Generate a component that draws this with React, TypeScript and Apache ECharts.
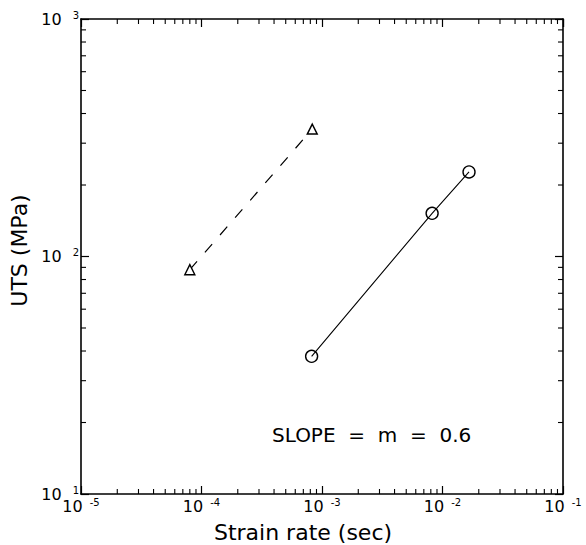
import React, { useEffect, useRef } from "react";
import * as echarts from "echarts";

// Axis decades and minor tick multiples
const xDecades = [1e-5, 1e-4, 1e-3, 1e-2];
const yDecades = [10, 100];
const minorMultiples = [2, 3, 4, 5, 6, 7, 8, 9];

// Data: [strain rate (1/s), UTS (MPa)]
const triangleSeries = [
  [8.0e-5, 88],
  [8.3e-4, 344],
];
const circleSeries = [
  [8.2e-4, 38],
  [8.2e-3, 152],
  [1.66e-2, 227],
];

const xTitle = "Strain rate (sec)";
const yTitle = "UTS (MPa)";
const noteText = "SLOPE\u00a0\u00a0=\u00a0\u00a0m\u00a0\u00a0=\u00a0\u00a00.6";

const FONT = "DejaVu Sans";

function expLabel(v: number) {
  const e = Math.round(Math.log10(v));
  return `{b|10}{s|${e}}`;
}

export default function App() {
  const ref = useRef<HTMLDivElement>(null);
  useEffect(() => {
    if (!ref.current) return;
    const chart = echarts.init(ref.current, undefined, { renderer: "svg" });
    const tickStyle = { color: "#000", width: 1.2 };
    const lineStyleAxis = { color: "#000", width: 1.6 };
    const richX = {
      b: { fontSize: 16, fontFamily: FONT, color: "#000", lineHeight: 18 },
      s: { fontSize: 10, fontFamily: FONT, color: "#000", verticalAlign: "top", padding: [0, 0, 0, 7] },
    };
    const richY = {
      b: { fontSize: 16, fontFamily: FONT, color: "#000", lineHeight: 18 },
      s: { fontSize: 10, fontFamily: FONT, color: "#000", verticalAlign: "top", padding: [0, 0, 0, 11] },
    };
    const option: any = {
      animation: false,
      backgroundColor: "#fff",
      grid: { left: 81, right: 23, top: 19, bottom: 51, outerBoundsMode: "none", containLabel: false },
      xAxis: [
        {
          type: "log",
          logBase: 10,
          min: 1e-5,
          max: 0.1,
          position: "bottom",
          axisLine: { lineStyle: lineStyleAxis },
          axisTick: { inside: true, length: 8, lineStyle: tickStyle },
          splitLine: { show: false },
          axisLabel: { formatter: expLabel, rich: richX, margin: 3, color: "#000" },
          name: xTitle,
          nameLocation: "middle",
          nameGap: 27,
          nameTextStyle: { fontSize: 22, lineHeight: 22, fontFamily: FONT, color: "#000", padding: [0, 38, 0, 0] },
        },
        {
          type: "log",
          logBase: 10,
          min: 1e-5,
          max: 0.1,
          position: "top",
          axisLine: { lineStyle: lineStyleAxis },
          axisTick: { inside: true, length: 8, lineStyle: tickStyle },
          splitLine: { show: false },
          axisLabel: { show: false },
        },
      ],
      yAxis: [
        {
          type: "log",
          logBase: 10,
          min: 10,
          max: 1000,
          position: "left",
          axisLine: { lineStyle: lineStyleAxis },
          axisTick: { inside: true, length: 8, lineStyle: tickStyle },
          splitLine: { show: false },
          axisLabel: { formatter: expLabel, rich: richY, margin: 2, color: "#000" },
          name: yTitle,
          nameLocation: "middle",
          nameGap: 50,
          nameTextStyle: { fontSize: 22, fontFamily: FONT, color: "#000", padding: [0, 0, 0, 12] },
        },
        {
          type: "log",
          logBase: 10,
          min: 10,
          max: 1000,
          position: "right",
          axisLine: { lineStyle: lineStyleAxis },
          axisTick: { inside: true, length: 8, lineStyle: tickStyle },
          splitLine: { show: false },
          axisLabel: { show: false },
        },
      ],
      graphic: [
        {
          type: "text",
          left: 272,
          top: 425,
          style: { text: noteText, font: `20px "${FONT}"`, fill: "#000" },
        },
      ],
      series: [
        {
          type: "custom",
          xAxisIndex: 0,
          yAxisIndex: 0,
          silent: true,
          data: [[1e-3, 100]],
          renderItem: (params: any, api: any) => {
            const cs = params.coordSys;
            const left = cs.x;
            const top = cs.y;
            const right = cs.x + cs.width;
            const bottom = cs.y + cs.height;
            const style = { stroke: "#000", lineWidth: 1.1 };
            const children: any[] = [];
            xDecades.forEach((d) =>
              minorMultiples.forEach((m) => {
                const px = api.coord([d * m, yDecades[0]])[0];
                children.push({ type: "line", shape: { x1: px, y1: bottom, x2: px, y2: bottom - 5 }, style });
                children.push({ type: "line", shape: { x1: px, y1: top, x2: px, y2: top + 5 }, style });
              })
            );
            yDecades.forEach((d) =>
              minorMultiples.forEach((m) => {
                const py = api.coord([xDecades[0], d * m])[1];
                children.push({ type: "line", shape: { x1: left, y1: py, x2: left + 5, y2: py }, style });
                children.push({ type: "line", shape: { x1: right, y1: py, x2: right - 5, y2: py }, style });
              })
            );
            return { type: "group", children };
          },
        },
        {
          type: "line",
          data: triangleSeries,
          symbol: "triangle",
          symbolSize: 10,
          itemStyle: { color: "#fff", borderColor: "#000", borderWidth: 1.4 },
          lineStyle: { color: "#000", width: 1.2, type: [11, 12] },
          z: 3,
        },
        {
          type: "line",
          data: circleSeries,
          symbol: "circle",
          symbolSize: 12,
          itemStyle: { color: "rgba(0,0,0,0)", borderColor: "#000", borderWidth: 1.4 },
          lineStyle: { color: "#000", width: 1.1 },
          z: 3,
        },
      ],
    };
    chart.setOption(option);
    return () => chart.dispose();
  }, []);
  return (
    <div
      ref={ref}
      style={{ position: "absolute", left: 0, top: 0, width: 586, height: 545, background: "#fff" }}
    />
  );
}
